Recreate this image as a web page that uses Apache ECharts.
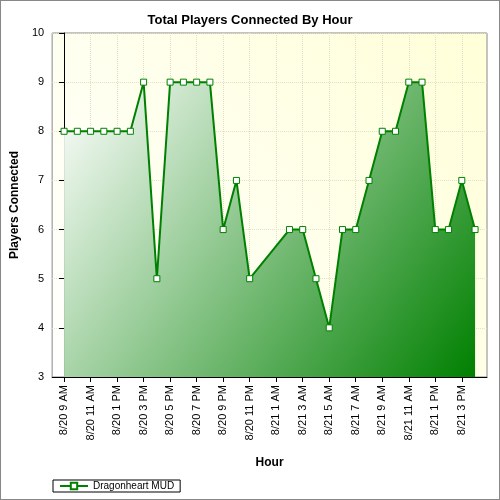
<!DOCTYPE html>
<html><head><meta charset="utf-8">
<script src="https://cdn.jsdelivr.net/npm/echarts@6/dist/echarts.min.js"></script>
<style>body{margin:0}#c{width:500px;height:500px;box-sizing:border-box;border:1px solid #888;background:#fff}</style>
</head><body><div id="c"></div>
<script>
var days = ['8/20','8/20','8/20','8/20','8/20','8/20','8/20','8/20','8/20','8/20','8/20','8/20','8/20','8/20','8/20',
            '8/21','8/21','8/21','8/21','8/21','8/21','8/21','8/21','8/21','8/21','8/21','8/21','8/21','8/21','8/21','8/21','8/21'];
var hours = ['9 AM','10 AM','11 AM','12 PM','1 PM','2 PM','3 PM','4 PM','5 PM','6 PM','7 PM','8 PM','9 PM','10 PM','11 PM',
             '12 AM','1 AM','2 AM','3 AM','4 AM','5 AM','6 AM','7 AM','8 AM','9 AM','10 AM','11 AM','12 PM','1 PM','2 PM','3 PM','4 PM'];
var players = [8,8,8,8,8,8,9,5,9,9,9,9,6,7,5,
               null,null,6,6,5,4,6,6,7,8,8,9,9,6,6,7,6];
var labelIdx = [0,2,4,6,8,10,12,14,16,18,20,22,24,26,28,30];

var pts = [];
for(var i=0;i<players.length;i++){
	if(players[i]!=null) pts.push([i,players[i]]);
}

var chart = echarts.init(document.getElementById('c'));
chart.setOption({
	title:{text:'Total Players Connected By Hour',left:'center',top:8,
		textStyle:{fontSize:13,fontWeight:'bold',color:'#000',fontFamily:'Liberation Sans'}},
	grid:{left:50,top:32,right:12,bottom:122,show:true,borderColor:'#888',borderWidth:1,
		backgroundColor:new echarts.graphic.LinearGradient(0,1,1,0,[{offset:0,color:'#ffffff'},{offset:1,color:'#ffffd8'}])},
	legend:{left:52,bottom:7,itemWidth:28,itemHeight:8,padding:[1,6],borderColor:'#000',borderWidth:1,borderRadius:0,
		textStyle:{fontSize:10,color:'#000',fontFamily:'Liberation Sans'}},
	xAxis:{type:'value',min:-0.9,max:31.9,name:'Hour',nameLocation:'middle',nameGap:80,
		nameTextStyle:{fontSize:12,fontWeight:'bold',color:'#000',fontFamily:'Liberation Sans'},
		axisLine:{onZero:false,lineStyle:{color:'#000'}},
		axisTick:{customValues:labelIdx,lineStyle:{color:'#000'}},
		axisLabel:{customValues:labelIdx,rotate:90,fontSize:11,color:'#000',fontFamily:'Liberation Sans',
			formatter:function(v){return days[v]+' '+hours[v];}},
		splitLine:{show:true,lineStyle:{color:'#e0e0c8',type:'dotted'}}},
	yAxis:{type:'value',min:3,max:10,interval:1,name:'Players Connected',nameLocation:'middle',nameGap:30,
		nameTextStyle:{fontSize:12,fontWeight:'bold',color:'#000',fontFamily:'Liberation Sans'},
		axisLine:{show:true,lineStyle:{color:'#000'}},axisTick:{show:true},
		axisLabel:{fontSize:11,color:'#000',fontFamily:'Liberation Sans'},
		splitLine:{lineStyle:{color:'#e0e0c8',type:'dotted'}}},
	series:[{name:'Dragonheart MUD',type:'line',data:pts,symbol:'rect',symbolSize:6,
		itemStyle:{color:'#fff',borderColor:'#008000',borderWidth:1},
		lineStyle:{color:'#008000',width:2},
		areaStyle:{origin:'start',opacity:1,color:new echarts.graphic.LinearGradient(0,0,1,1,[{offset:0,color:'#ffffff'},{offset:1,color:'#008000'}])}
	}]
});
</script></body></html>
